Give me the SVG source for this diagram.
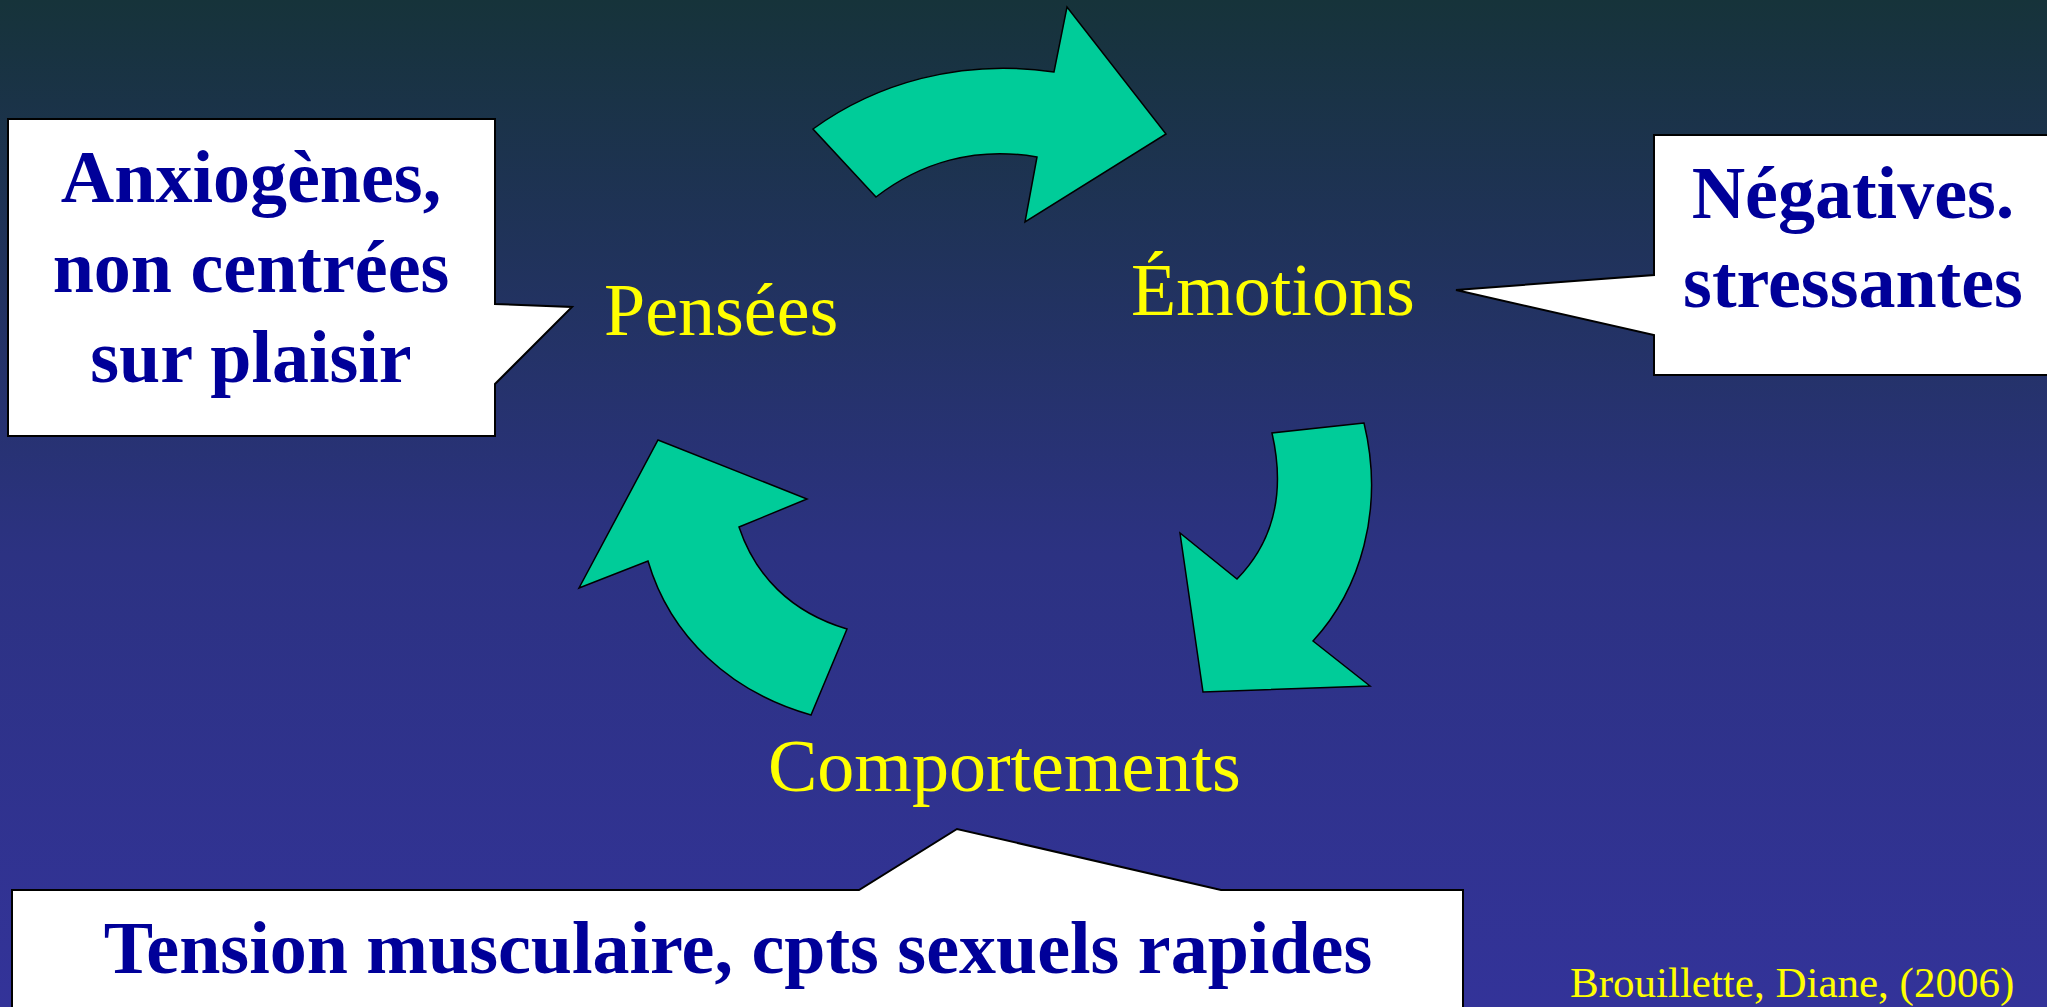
<svg xmlns="http://www.w3.org/2000/svg" width="2047" height="1007" viewBox="0 0 2047 1007">
<defs>
<linearGradient id="bg" x1="0" y1="0" x2="0" y2="1">
<stop offset="0" stop-color="#16333a"/>
<stop offset="0.55" stop-color="#2c3282"/>
<stop offset="1" stop-color="#333399"/>
</linearGradient>
<style>
.arrow{fill:#00cc99;stroke:#000;stroke-width:1.5;stroke-linejoin:miter}
.callout{fill:#fff;stroke:#000;stroke-width:2}
.bold{font-family:"Liberation Serif","Times New Roman",serif;font-weight:bold;font-size:74px;fill:#000099}
.label{font-family:"Liberation Serif","Times New Roman",serif;font-size:74px;fill:#ffff00}
.cite{font-family:"Liberation Serif","Times New Roman",serif;font-size:43px;fill:#ffff00}
</style>
</defs>
<rect x="0" y="0" width="2047" height="1007" fill="url(#bg)"/>

<g id="connectors">
<path class="arrow" d="M813,129 C875,84 960,58 1054,72 L1067,7 L1166,134 L1025,222 L1037,157 C975,146 920,163 876,197 Z"/>
<path class="arrow" d="M1364,423 L1272,433 C1285,490 1275,540 1237,579 L1180,533 L1203,692 L1370,686 L1313,641 C1360,590 1385,510 1364,423 Z"/>
<path class="arrow" d="M658,440 L807,499 L739,527 C755,575 790,612 847,629 L811,715 C730,692 670,636 648,561 L579,588 Z"/>
</g>

<g id="node-pensees-callout">
<path class="callout" d="M8,119 L495,119 L495,304 L572,307 L495,384 L495,436 L8,436 Z"/>
<text class="bold" text-anchor="middle" x="251" y="202">Anxiogènes,</text>
<text class="bold" text-anchor="middle" x="251" y="292">non centrées</text>
<text class="bold" text-anchor="middle" x="251" y="382">sur plaisir</text>
</g>

<g id="node-emotions-callout">
<path class="callout" d="M1654,135 L2060,135 L2060,375 L1654,375 L1654,335 L1456,290 L1654,275 Z"/>
<text class="bold" text-anchor="middle" x="1853" y="218">Négatives.</text>
<text class="bold" text-anchor="middle" x="1853" y="307">stressantes</text>
</g>

<g id="node-comportements-callout">
<path class="callout" d="M12,890 L859,890 L957,829 L1221,890 L1463,890 L1463,1020 L12,1020 Z"/>
<text class="bold" text-anchor="middle" x="738" y="973">Tension musculaire, cpts sexuels rapides</text>
</g>

<g id="node-pensees">
<text class="label" x="604" y="335">Pensées</text>
</g>
<g id="node-emotions">
<text class="label" x="1131" y="315">Émotions</text>
</g>
<g id="node-comportements">
<text class="label" x="768" y="791">Comportements</text>
</g>
<g id="citation">
<text class="cite" x="1570" y="997">Brouillette, Diane, (2006)</text>
</g>
</svg>
